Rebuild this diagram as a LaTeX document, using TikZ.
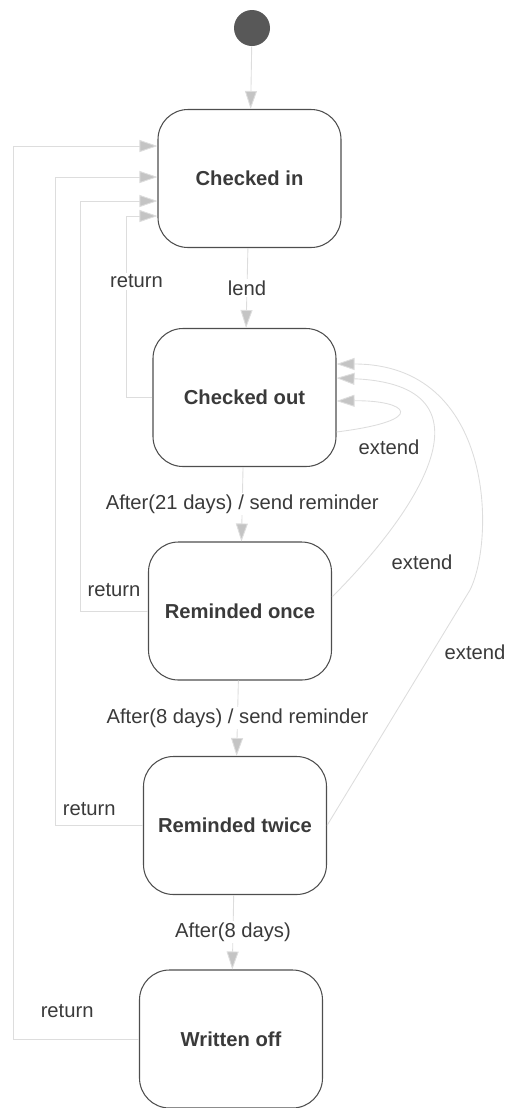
\documentclass[tikz,border=0pt]{standalone}
\usepackage{fontspec}
\setmainfont{Liberation Sans}
\usetikzlibrary{arrows.meta}
\definecolor{ink}{HTML}{3A3A3A}
\definecolor{wire}{HTML}{DDDDDD}
\definecolor{tipfill}{HTML}{C4C4C4}

\begin{document}
\begin{tikzpicture}[>={Triangle[length=0.36cm, width=0.24cm, fill=tipfill]},
  every node/.style={text=ink, font=\fontsize{11.5}{13.8}\selectfont},
  state/.style={draw=ink!90, line width=0.6pt, rounded corners=0.6cm,
    minimum width=3.66cm, minimum height=2.76cm,
    font=\fontsize{11.5}{13.8}\selectfont\bfseries},
  trans/.style={draw=wire, line width=0.5pt, ->},
  lbl/.style={fill=white, inner sep=1pt}]
\useasboundingbox (0,0) rectangle (10.18,-22.16);

\node[circle, fill=ink!85, minimum size=0.72cm, inner sep=0pt] (init) at (5.04,-0.56) {};
\node[state] (ci) at (4.99,-3.57) {Checked in};
\node[state] (co) at (4.89,-7.95) {Checked out};
\node[state] (r1) at (4.80,-12.22) {Reminded once};
\node[state] (r2) at (4.70,-16.51) {Reminded twice};
\node[state] (wo) at (4.62,-20.78) {Written off};

% main line
\draw[trans] (init) -- (ci);
\draw[trans] (ci) -- (co) node[midway, lbl] (lend) {lend};
\draw[trans] (co) -- (r1) node[midway, lbl] (after21) {After(21 days) / send reminder};
\draw[trans] (r1) -- (r2) node[midway, lbl] (after8a) {After(8 days) / send reminder};
\draw[trans] (r2) -- (wo) node[midway, lbl] (after8b) {After(8 days)};

% returns
\draw[trans] (co.west) -- ++(-0.52,0) |- node[pos=0.32, lbl, xshift=0.2cm] (ret0) {return} ([yshift=-0.75cm]ci.west);
\draw[trans] (r1.west) -- node[above, yshift=0.16cm] (ret1) {return} ++(-1.36,0) |- ([yshift=-0.45cm]ci.west);
\draw[trans] (r2.west) -- node[pos=0.61, above, yshift=0.08cm] (ret2) {return} ++(-1.76,0) |- ([yshift=0.03cm]ci.west);
\draw[trans] (wo.west) -- node[pos=0.57, above, yshift=0.3cm] (ret3) {return} ++(-2.52,0) |- ([yshift=0.65cm]ci.west);

% extends
\draw[trans] ([yshift=-0.69cm]co.east) .. controls +(1.9,0.24) and +(1.4,0.02) .. ([yshift=-0.07cm]co.east);
\draw[trans] ([yshift=0.28cm]r1.east) .. controls (8.4,-10.18) and (10.0,-7.7) .. ([yshift=0.39cm]co.east);
\draw[trans] (r2.east) -- (9.4,-11.8) .. controls (9.9,-10.8) and (9.9,-7.28) .. ([yshift=0.67cm]co.east);
\node (ext0) at (7.78,-8.94) {extend};
\node (ext1) at (8.44,-11.24) {extend};
\node (ext2) at (9.5,-13.04) {extend};
\end{tikzpicture}
\end{document}
